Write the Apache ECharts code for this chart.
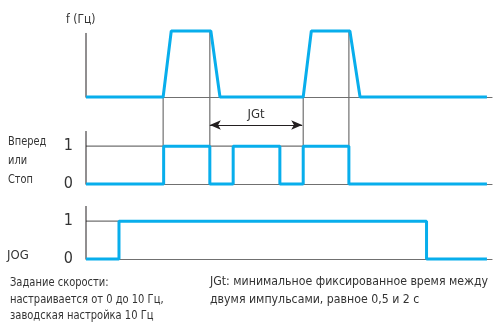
<!DOCTYPE html>
<html><head><meta charset="utf-8">
<script src="https://cdn.jsdelivr.net/npm/echarts@6/dist/echarts.min.js"></script>
<style>html,body{margin:0;padding:0;background:#fff}#c{width:497px;height:327px}</style>
</head><body><div id="c"></div>
<script>
// ---- data (time in arbitrary units, 0..40) ----
const freqTimes  = [0, 7.6, 8.4, 12.3, 13.2, 21.4, 22.2, 26.0, 27.0, 39.5];
const freqValues = [0, 0,   10,  10,   0,    0,    10,   10,   0,    0];
const runTimes   = [0, 7.65, 12.2, 14.5, 19.1, 21.4, 25.9, 39.5];
const runLevels  = [0, 1,    0,    1,    0,    1,    0,    0];
const jogTimes   = [0, 3.25, 33.55, 39.5];
const jogLevels  = [0, 1,    0,     0];
const guideTimes = [7.6, 12.2, 21.4, 25.9];   // vertical reference lines
const jgtStart = 12.2, jgtEnd = 21.3;
const levelTicks = [0, 1];
const texts = {
  fAxis: 'f (Гц)', run: ['Вперед', 'или', 'Стоп'], jog: 'JOG', jgt: 'JGt',
  noteLeft: ['Задание скорости:', 'настраивается от 0 до 10 Гц,', 'заводская настройка 10 Гц'],
  noteRight: ['JGt: минимальное фиксированное время между', 'двумя импульсами, равное 0,5 и 2 с']
};

const FONT = '"DejaVu Sans Condensed","Liberation Sans",sans-serif';
const BLUE = '#08aeec', GRAY = '#707070', BLACK = '#231f20';
const zip = (a, b) => a.map((v, i) => [v, b[i]]);

const xAxisBase = (gi) => ({
  type: 'value', gridIndex: gi, min: 0, max: 40,
  axisLine: { show: true, onZero: false, lineStyle: { color: GRAY, width: 1.2 } },
  axisTick: { show: false }, axisLabel: { show: false }, splitLine: { show: false }
});
const yAxisBase = (gi, max, interval, showLabels) => ({
  type: 'value', gridIndex: gi, min: 0, max: max, interval: interval,
  axisLine: { show: false }, axisTick: { show: false }, splitLine: { show: false },
  axisLabel: {
    show: showLabels, margin: 13, color: '#333', fontSize: 16, fontFamily: FONT,
    formatter: v => levelTicks.includes(v) ? String(v) : ''
  }
});
const seg = (gi, pts, color, width, z) => ({
  type: 'line', xAxisIndex: gi, yAxisIndex: gi, data: pts, symbol: 'none', silent: true,
  lineStyle: { color: color, width: width }, z: z, clip: false, animation: false
});

const series = [];
// y-axis lines
series.push(seg(0, [[0, 0], [0, 9.7]], BLACK, 1, 3));
series.push(seg(1, [[0, 0], [0, 1.4]], BLACK, 1, 3));
series.push(seg(2, [[0, 0], [0, 1.4]], BLACK, 1, 3));
// level-1 gray lines
series.push(seg(1, [[0, 1], [guideTimes[3], 1]], GRAY, 1.2, 2));
series.push(seg(2, [[0, 1], [jogTimes[1], 1]], GRAY, 1.2, 2));
// vertical guides
guideTimes.forEach((t, i) => {
  series.push(seg(1, [[t, 1], [t, 2.3]], GRAY, 1.2, 2));
  if (i % 2 === 1) series.push(seg(0, [[t, 0], [t, 10]], GRAY, 1.2, 2));
});
// JGt arrow
series.push({
  type: 'line', xAxisIndex: 1, yAxisIndex: 1, data: [], silent: true, animation: false,
  markLine: {
    silent: true, animation: false, symbol: ['arrow', 'arrow'], symbolSize: [7, 11],
    lineStyle: { color: BLACK, width: 1, type: 'solid' },
    label: { show: true, position: 'middle', formatter: texts.jgt, color: '#333', fontSize: 13, fontFamily: FONT, distance: 4 },
    data: [[{ coord: [jgtStart, 1.56] }, { coord: [jgtEnd, 1.56] }]]
  }
});
// blue signals
series.push(seg(0, zip(freqTimes, freqValues), BLUE, 3, 10));
series.push(Object.assign(seg(1, zip(runTimes, runLevels), BLUE, 3, 10), { step: 'end' }));
series.push(Object.assign(seg(2, zip(jogTimes, jogLevels), BLUE, 3, 10), { step: 'end' }));

const txt = (x, y, s, sx, size) => ({
  type: 'text', x: x, y: y, scaleX: sx, silent: true,
  style: { text: s, fill: '#333', font: (size || 13) + 'px ' + FONT, verticalAlign: 'middle', align: 'left' }
});
const graphics = [
  txt(66, 20, texts.fAxis, 0.92, 13),
  txt(8, 142, texts.run[0], 0.84), txt(8, 161, texts.run[1], 0.84), txt(8, 180, texts.run[2], 0.84),
  txt(7, 256, texts.jog, 1.0),
  txt(10, 283, texts.noteLeft[0], 0.85), txt(10, 299.5, texts.noteLeft[1], 0.85), txt(10, 316, texts.noteLeft[2], 0.85),
  txt(210, 282, texts.noteRight[0], 0.94), txt(210, 300, texts.noteRight[1], 0.94)
];

const chart = echarts.init(document.getElementById('c'), null, { renderer: 'canvas' });
chart.setOption({
  animation: false,
  grid: [
    { left: 86, width: 406, top: 31, height: 66 },
    { left: 86, width: 406, top: 97, height: 87 },
    { left: 86, width: 406, top: 206, height: 53 }
  ],
  xAxis: [xAxisBase(0), xAxisBase(1), xAxisBase(2)],
  yAxis: [yAxisBase(0, 10, 5, false), yAxisBase(1, 2.3, 1, true), yAxisBase(2, 1.4, 1, true)],
  series: series,
  graphic: graphics
});
</script></body></html>
